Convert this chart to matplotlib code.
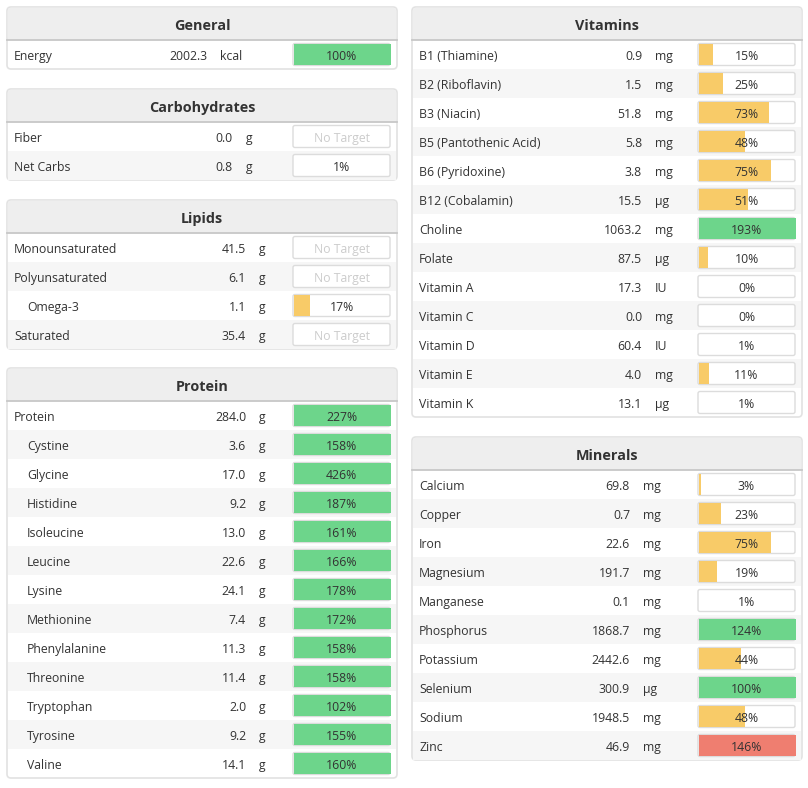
import matplotlib
matplotlib.use("Agg")
import matplotlib.pyplot as plt
from matplotlib.patches import FancyBboxPatch, Rectangle

plt.rcParams['font.family'] = ['Open Sans', 'DejaVu Sans']

# ---- data ----
general_names = ["Energy"]
general_values = [2002.3]
general_units = ["kcal"]
general_pct = [100]

carb_names = ["Fiber", "Net Carbs"]
carb_values = [0.0, 0.8]
carb_units = ["g", "g"]
carb_pct = [None, 1]

lipid_names = ["Monounsaturated", "Polyunsaturated", "Omega-3", "Saturated"]
lipid_values = [41.5, 6.1, 1.1, 35.4]
lipid_units = ["g", "g", "g", "g"]
lipid_pct = [None, None, 17, None]
lipid_indent = [False, False, True, False]

protein_names = ["Protein", "Cystine", "Glycine", "Histidine", "Isoleucine", "Leucine",
                 "Lysine", "Methionine", "Phenylalanine", "Threonine", "Tryptophan",
                 "Tyrosine", "Valine"]
protein_values = [284.0, 3.6, 17.0, 9.2, 13.0, 22.6, 24.1, 7.4, 11.3, 11.4, 2.0, 9.2, 14.1]
protein_units = ["g"] * 13
protein_pct = [227, 158, 426, 187, 161, 166, 178, 172, 158, 158, 102, 155, 160]
protein_indent = [False] + [True] * 12

vitamin_names = ["B1 (Thiamine)", "B2 (Riboflavin)", "B3 (Niacin)", "B5 (Pantothenic Acid)",
                 "B6 (Pyridoxine)", "B12 (Cobalamin)", "Choline", "Folate", "Vitamin A",
                 "Vitamin C", "Vitamin D", "Vitamin E", "Vitamin K"]
vitamin_values = [0.9, 1.5, 51.8, 5.8, 3.8, 15.5, 1063.2, 87.5, 17.3, 0.0, 60.4, 4.0, 13.1]
vitamin_units = ["mg", "mg", "mg", "mg", "mg", "µg", "mg", "µg", "IU", "mg", "IU", "mg", "µg"]
vitamin_pct = [15, 25, 73, 48, 75, 51, 193, 10, 0, 0, 1, 11, 1]

mineral_names = ["Calcium", "Copper", "Iron", "Magnesium", "Manganese", "Phosphorus",
                 "Potassium", "Selenium", "Sodium", "Zinc"]
mineral_values = [69.8, 0.7, 22.6, 191.7, 0.1, 1868.7, 2442.6, 300.9, 1948.5, 46.9]
mineral_units = ["mg", "mg", "mg", "mg", "mg", "mg", "mg", "µg", "mg", "mg"]
mineral_pct = [3, 23, 75, 19, 1, 124, 44, 100, 48, 146]

over_limit = {"Zinc"}

# ---- style ----
GREEN = "#6dd58b"
YELLOW = "#f8cb68"
RED = "#ef7e70"
TXT = "#333333"
ROW_H = 29
HEAD_H = 33
BAR_W = 97
BAR_H = 22
FS = 8.8
BASE = 5.2  # baseline offset below row centre, px

# (title, names, values, units, pct, indent, x0, x1, top, value right edge, unit x)
panels = [
    ("General", general_names, general_values, general_units, general_pct, None, 7, 397, 7, 207, 220),
    ("Carbohydrates", carb_names, carb_values, carb_units, carb_pct, None, 7, 397, 89, 233, 246),
    ("Lipids", lipid_names, lipid_values, lipid_units, lipid_pct, lipid_indent, 7, 397, 200, 246, 259),
    ("Protein", protein_names, protein_values, protein_units, protein_pct, protein_indent, 7, 397, 368, 246, 259),
    ("Vitamins", vitamin_names, vitamin_values, vitamin_units, vitamin_pct, None, 412, 802, 7, 642, 655),
    ("Minerals", mineral_names, mineral_values, mineral_units, mineral_pct, None, 412, 802, 437, 630, 643),
]

fig = plt.figure(figsize=(8.08, 7.88), dpi=100)
ax = fig.add_axes([0, 0, 1, 1])
ax.set_xlim(0, 808)
ax.set_ylim(788, 0)
ax.axis("off")

for title, names, values, units, pct, indent, x0, x1, top, vr, ux in panels:
    n = len(names)
    h = HEAD_H + n * ROW_H
    w = x1 - x0
    # panel frame + header
    ax.add_patch(FancyBboxPatch((x0, top), w, h, boxstyle="round,pad=0,rounding_size=4",
                                fc="white", ec="#e2e2e2", lw=1.2, zorder=1))
    ax.add_patch(FancyBboxPatch((x0 + 0.6, top + 0.6), w - 1.2, HEAD_H, boxstyle="round,pad=0,rounding_size=4",
                                fc="#eeeeee", ec="none", zorder=2))
    ax.add_patch(Rectangle((x0 + 0.6, top + 8), w - 1.2, HEAD_H - 8, fc="#eeeeee", ec="none", zorder=2))
    ax.plot([x0, x1], [top + HEAD_H, top + HEAD_H], color="#c8c8c8", lw=1.3, zorder=3)
    ax.text((x0 + x1) / 2, top + HEAD_H / 2 + 6.3, title, ha="center", va="baseline",
            fontsize=10.4, fontweight="bold", color=TXT, zorder=4)

    ys = [top + HEAD_H + ROW_H * (i + 0.5) for i in range(n)]
    for i in range(n):
        y = ys[i]
        if i % 2 == 1:
            ax.add_patch(Rectangle((x0 + 1, y - ROW_H / 2), w - 2, ROW_H, fc="#f6f6f6", ec="none", zorder=2))
        nx = x0 + 7 + (13 if indent is not None and indent[i] else 0)
        ax.text(nx, y + BASE, names[i], ha="left", va="baseline", fontsize=FS, color=TXT, zorder=4)
        ax.text(vr, y + BASE, f"{values[i]:.1f}", ha="right", va="baseline", fontsize=FS, color=TXT, zorder=4)
        ax.text(ux, y + BASE, units[i], ha="left", va="baseline", fontsize=FS, color=TXT, zorder=4)

    # progress bars
    bx = x1 - 7 - BAR_W
    for i in range(n):
        ax.add_patch(FancyBboxPatch((bx, ys[i] - BAR_H / 2), BAR_W, BAR_H,
                                    boxstyle="round,pad=0,rounding_size=2",
                                    fc="white", ec="#dcdcdc", lw=1.0, zorder=3))
    fills = [0 if p is None else min(p, 100) / 100 * BAR_W for p in pct]
    colors = []
    for nm, p in zip(names, pct):
        if p is None:
            colors.append("none")
        elif nm in over_limit:
            colors.append(RED)
        elif p >= 100:
            colors.append(GREEN)
        else:
            colors.append(YELLOW)
    ax.barh(ys, fills, left=bx + 0.5, height=BAR_H - 1, color=colors, zorder=4)
    for i in range(n):
        if pct[i] is None:
            ax.text(bx + BAR_W / 2, ys[i] + BASE, "No Target", ha="center", va="baseline",
                    fontsize=FS, color="#cccccc", zorder=5)
        else:
            ax.text(bx + BAR_W / 2, ys[i] + BASE, f"{pct[i]}%", ha="center", va="baseline",
                    fontsize=FS, color=TXT, zorder=5)

fig.savefig("out.png", dpi=100)
